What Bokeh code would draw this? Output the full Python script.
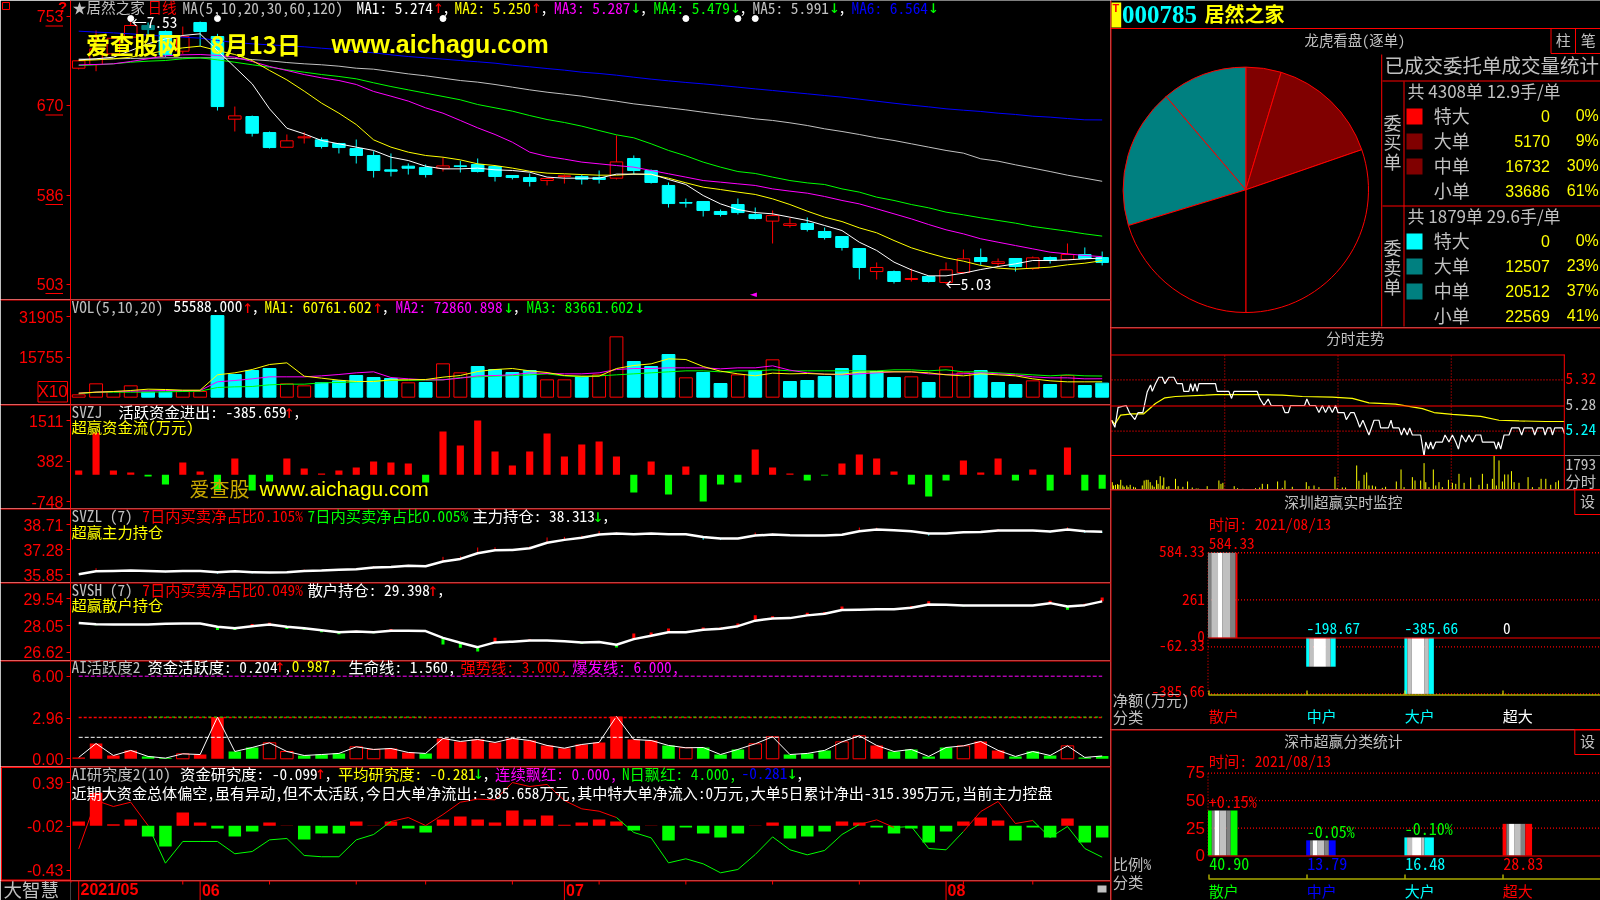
from bokeh.plotting import figure
from bokeh.layouts import row, column
from bokeh.models import Range1d, FixedTicker, Label, BoxAnnotation
from bokeh.embed import file_html
from bokeh.resources import INLINE
import math

# ---------- price panel (values in cents, as the axis shows them)
OPEN = [704.7,708.1,718.1,733.7,744.6,739.0,720.6,747.4,734.3,657.1,659.6,644.6,630.9,639.7,637.8,634.4,629.7,623.2,609.8,613.2,
        612.0,611.3,613.5,614.8,612.9,604.5,602.6,599.8,603.6,603.6,602.6,602.0,620.4,609.2,595.2,579.3,580.2,570.9,577.4,568.1,
        561.9,557.8,559.7,552.2,547.5,536.3,514.8,514.8,507.4,510.2,504.6,513.9,527.9,522.3,527.0,517.6,527.9,526.1,530.7,527.9]
CLOSE = [711.6,722.8,732.7,744.6,740.8,717.2,734.3,739.0,668.9,660.2,644.0,630.6,636.9,640.6,631.6,630.6,623.2,609.2,608.5,611.3,
         605.4,613.5,612.9,608.2,603.6,602.6,598.9,601.7,604.2,601.1,600.8,617.2,609.2,598.0,578.3,578.7,571.8,568.1,569.9,564.3,
         567.1,559.4,554.1,546.6,537.3,518.6,518.6,505.5,508.3,505.5,516.4,526.7,524.2,523.9,519.5,527.6,525.1,530.7,527.0,523.3]
HIGH = [712.5,739.9,733.7,749.2,747.4,739.9,743.6,748.3,736.8,668.9,660.5,645.6,642.8,645.0,640.0,635.0,638.1,627.2,625.1,615.7,
        614.8,621.3,618.2,620.4,613.8,604.5,606.4,601.7,605.4,605.4,609.2,641.9,623.2,610.1,598.0,583.0,580.2,572.7,583.0,574.6,
        571.8,565.0,565.3,555.9,547.5,536.3,523.3,515.8,517.6,511.1,523.3,535.4,536.3,527.0,527.0,528.9,528.9,541.0,537.3,533.5]
LOW = [703.5,701.9,716.5,732.7,730.5,715.0,718.1,725.3,665.2,645.6,640.9,629.7,630.6,634.4,629.7,625.1,615.7,602.6,603.6,605.4,
       602.6,608.2,607.3,607.3,598.9,600.8,594.2,595.2,597.0,596.1,597.0,600.8,605.4,597.0,574.6,574.6,566.2,566.2,568.1,563.4,
       541.0,555.9,552.2,544.7,534.4,507.4,507.4,503.6,505.5,504.6,503.0,512.7,520.5,519.5,514.8,516.4,522.3,526.1,526.1,520.5]
MA1 = [712.5,713.5,715.0,721.2,727.5,732.1,735.3,736.8,721.2,705.7,690.1,666.8,648.7,643.4,637.2,634.1,631.0,627.9,621.6,618.5,
       613.2,610.7,610.7,611.4,609.8,609.2,607.6,603.0,602.0,602.0,602.0,605.8,605.8,605.8,600.8,596.1,585.8,578.0,572.7,569.9,
       568.7,565.6,562.5,557.8,553.1,542.2,534.5,523.6,516.4,510.8,510.8,513.3,516.7,519.5,522.0,525.1,525.1,525.7,526.7,527.4]
MA2 = [711.9,712.5,713.5,715.0,718.1,721.2,723.7,725.3,721.2,717.5,711.9,702.6,693.8,683.3,672.1,662.7,652.1,637.8,631.0,626.3,
       623.2,621.6,619.1,615.4,613.8,611.4,608.5,606.7,606.1,605.4,604.8,604.8,605.8,605.4,602.0,597.7,593.6,591.4,589.0,586.8,
       582.7,577.4,571.2,565.6,561.5,555.6,551.0,543.8,537.0,532.0,527.6,524.5,520.5,518.0,517.0,518.0,518.9,521.1,522.6,525.0]
MA3 = [707.8,708.2,708.8,711.0,713.5,716.3,717.2,717.5,716.6,715.0,711.0,706.3,702.6,698.8,695.7,693.2,689.5,683.0,678.6,674.0,
       667.7,662.7,655.9,649.0,642.8,635.6,626.3,622.3,619.8,617.0,615.4,613.8,612.3,609.2,606.1,603.0,599.8,598.3,596.7,595.2,
       592.0,589.9,588.0,584.9,581.2,578.0,573.4,568.7,564.0,558.7,553.8,550.0,545.4,542.2,539.1,536.0,532.9,531.3,529.8,528.7]
MA4 = [707.2,707.9,708.8,710.3,711.3,711.9,713.5,714.4,712.5,710.3,707.9,705.7,703.2,701.0,698.8,697.0,694.8,691.1,687.6,684.5,
       681.4,678.3,675.2,670.8,667.7,664.6,660.5,656.8,654.0,650.6,646.5,642.5,639.7,634.1,627.9,622.9,617.0,612.3,608.2,606.4,
       603.0,599.8,597.6,596.1,592.0,589.0,584.3,581.2,577.4,574.3,570.3,567.8,565.0,562.5,560.0,556.9,554.7,552.5,550.0,547.9]
MA5 = [713.2,713.2,713.5,713.8,714.1,714.4,714.4,714.4,714.4,713.8,712.8,711.6,710.0,708.8,707.9,706.6,704.7,703.8,701.6,699.4,
       697.6,695.4,693.2,691.7,689.5,687.0,684.5,682.3,680.5,678.6,676.1,673.9,671.4,669.6,667.7,665.8,663.6,661.5,659.6,657.4,
       655.9,653.7,651.2,648.1,645.6,642.8,639.7,637.2,634.1,631.0,627.9,625.4,620.1,617.9,614.5,611.4,608.2,604.8,602.0,599.1]
MA6 = [739.3,738.4,737.7,736.8,735.6,734.6,733.7,732.8,730.6,728.7,727.5,726.5,725.6,724.7,723.4,722.2,720.6,719.1,717.2,715.6,
       714.4,713.2,711.9,710.7,709.4,707.5,706.0,704.4,702.9,701.0,699.8,698.2,696.3,694.5,692.9,691.4,690.1,688.6,687.0,685.4,
       683.9,682.3,680.8,679.2,677.7,675.8,673.9,672.0,670.2,668.6,666.8,665.5,664.3,662.7,661.5,659.9,659.0,657.7,656.5,656.4]
PRICE_TICKS = [503, 586, 670, 753]
STAR_BARS = [3, 8, 21, 35, 38, 39]
STAR_LEVEL = 751.1
DIM_CANDLES = [4]

# ---------- volume (axis unit: X10)
VOL = [924,5280,2244,4488,1980,1980,2244,2244,32300,8976,10560,11352,5280,4488,5676,6468,8580,7788,7392,5676,
       5808,13200,9636,12144,10956,9768,10560,6864,6864,8184,8844,23892,14124,12144,16896,7656,9768,5412,8844,10560,
       14784,6204,6600,8184,11352,16500,10164,7788,8052,5808,12012,9636,10560,5808,5016,6468,5016,8580,4620,5559]
VOL_UP = [0,1,2,3,6,7,12,13,19,21,22,27,28,30,31,35,38,40,48,50,51,55,57]
VOL_MA1 = [1584,1980,2244,2640,3168,3036,2772,2772,8844,9636,10956,12936,13596,8316,7524,6732,6204,6204,6864,6864,
           6996,7920,8580,10164,10956,11352,10428,9768,8580,8316,8316,11352,12540,13200,15180,14916,12144,10296,9240,8448,
           9504,9240,9372,9108,9108,9900,10032,10032,10032,9636,8844,8448,9240,8844,8448,7260,6468,6072,6072,6076]
VOL_MA2 = [1584,1980,2244,2376,2508,2640,2640,2640,6072,6600,7260,8052,8052,8052,8448,8976,9636,10032,7788,7260,
           6864,6864,7524,8448,8580,8844,9636,9372,9240,9240,9636,10956,11352,11352,11616,11616,11616,11220,11616,11616,
           12408,10692,9636,9108,8844,9240,9636,10032,10032,9240,8976,9240,9636,9240,8844,8052,7656,7656,7260,7286]
VOL_MA3 = [1320,1980,1980,1980,1980,2112,2244,2376,3828,4092,4224,4884,5148,5148,5676,5808,6072,6336,6600,6732,
           6732,6864,7788,8052,8316,8580,8844,9240,8448,8052,8448,8844,9240,9636,10032,10428,10428,10032,10428,10428,
           10824,10428,10428,10428,10428,10428,10428,10824,10824,10428,10824,10032,10032,9636,9240,8844,8448,8844,8448,8366]
VOL_TICKS = [15755, 31905]

# ---------- SVZJ
FLOW = [121,1176,121,65,-47,-271,345,93,-439,457,-439,-187,457,177,37,121,205,373,345,317,
        -215,1213,821,1521,653,261,653,1157,513,849,933,513,-494,373,-550,233,-746,-271,-215,709,
        205,37,-159,-19,317,569,457,93,-271,-606,-159,401,65,457,-159,149,-439,765,-439,-386]
FLOW_TICKS = [-748, 382, 1511]

# ---------- SVZL / SVSH
MAIN_HOLD = [35.87,36.04,36.06,36.08,36.06,36.02,36.06,36.06,35.98,36.04,35.98,35.97,35.98,36.06,36.08,36.12,36.16,36.25,36.29,36.35,
             36.33,36.6,36.75,37.08,37.25,37.27,37.37,37.68,37.85,37.97,38.16,38.22,38.18,38.22,38.18,38.18,38.02,37.93,37.93,38.1,
             38.16,38.12,38.1,38.1,38.14,38.35,38.45,38.41,38.35,38.22,38.22,38.29,38.31,38.39,38.39,38.39,38.33,38.45,38.35,38.313]
MAIN_TICKS = [35.85, 37.28, 38.71]
RETAIL_HOLD = [28.21,28.15,28.13,28.13,28.13,28.17,28.19,28.19,28.01,27.92,28.04,28.13,28.01,27.93,27.82,27.71,27.75,27.70,27.79,27.79,
               27.77,27.40,27.13,26.89,27.15,27.19,27.26,27.26,27.22,27.15,27.17,27.02,27.33,27.51,27.71,27.71,27.84,27.90,28.04,28.34,
               28.46,28.48,28.63,28.72,28.92,28.94,28.96,28.96,29.05,29.23,29.21,29.17,29.17,29.17,29.17,29.17,29.30,29.12,29.19,29.398]
RETAIL_TICKS = [26.62, 28.05, 29.54]

# ---------- AI activity
ACTIVE = [.10,1.11,.24,.61,.17,.05,.36,.31,3.03,.53,.82,1.16,.53,.24,.31,.39,.87,.68,.75,.46,
          .39,1.48,1.26,1.40,1.19,1.48,1.33,.97,.77,1.04,1.19,3.08,1.40,1.33,.97,.80,.82,.31,.68,1.09,
          1.60,.31,.39,.61,1.23,1.67,.97,.53,.68,.17,.82,.94,1.26,.61,.17,.53,.24,.94,.10,.204]
ACTIVE_KIND = list("rrrrgghrrgghhggghhrrgrrrrrrr" "rrrrrrghggghhggghhrgggghrrggghgg")
assert len(ACTIVE_KIND) == 60
ACTIVE_TICKS = [0.0, 2.96, 6.0]
LINE_POWER, LINE_STRONG, LINE_LIFE = 6.0, 3.0, 1.56

# ---------- AI research
RESEARCH = [.027,.295,0,.045,-.113,-.207,.111,.017,-.039,-.113,-.067,.017,-.011,-.141,-.085,-.085,.027,-.011,.027,-.039,
            -.076,.045,.074,.045,.017,.13,.045,.083,-.004,.017,.045,.027,-.057,-.011,-.151,-.029,-.085,-.123,-.085,-.011,
            .017,-.132,-.113,-.067,.027,.017,-.029,-.085,-.039,-.169,-.067,.027,.064,.036,-.151,-.029,-.123,.055,-.169,-.123]
RESEARCH_LINE = [-.229,.223,.167,.207,-.011,-.363,-.16,-.16,-.16,-.275,-.254,-.145,-.132,-.291,-.303,-.303,-.145,-.095,.027,.064,
                 -.011,.092,.207,.236,.229,.391,.354,.373,.223,.145,.123,.064,-.076,-.126,-.36,-.322,-.369,-.453,-.422,-.282,
                 -.117,-.238,-.285,-.244,-.095,-.001,.042,-.029,-.02,-.226,-.238,-.067,.12,.214,.008,.036,-.123,-.02,-.226,-.307]
RESEARCH_TICKS = [-0.43, -0.02, 0.39]
RESEARCH_BASE = -0.014

# ---------- date strip
MONTH_BARS = [0, 7, 28, 50]
MONTH_LABELS = ["2021/05", "06", "07", "08"]
DATE_TICKS = [6, 11, 16, 20, 25, 30, 35, 40, 45, 51, 55]

# ---------- order pie
BUY_VALUES = [0, 5170, 16732, 33686]
SELL_VALUES = [0, 12507, 20512, 22569]
BUY_PCT = ["0%", "9%", "30%", "61%"]
SELL_PCT = ["0%", "23%", "37%", "41%"]
SIZE_NAMES = ["特大", "大单", "中单", "小单"]

# ---------- intraday
MIN_T = [0,1.8,3.5,7.8,9.5,12.4,14.1,16.6,18.9,20.7,
         21.6,23.3,25.1,26.9,28.3,30.4,33,34.8,37.5,38.3,
         41,41.9,43.1,44.2,45.4,46.3,55.1,56,62.2,63.6,
         64.9,77.2,78.5,80.8,83,84.6,90.5,91.9,93.7,94.9,
         102.3,103.5,105,108.1,109.9,111.7,113.4,115.2,117,118.7,
         120,123.2,124.4,126.7,128.5,130.2,131.5,133.2,136.4,139.1,
         141.7,142.6,146.7,148.1,149.1,152.3,153.6,155,156.7,158,
         159.4,163.8,165.6,166.5,167.9,169.1,170.3,171.8,175.3,176.7,
         178.8,180.6,182.4,183.8,185.5,187.7,189.4,191.2,193,195.6,
         196.5,202.7,203.9,205,206.2,208,210.6,212,215.9,217.3,
         218.6,223,224.2,225.6,228.7,229.7,231,232.7,233.6,234.8,
         238.9,240]
MIN_P = [5.257,5.246,5.277,5.28,5.269,5.258,5.269,5.269,5.301,5.312,
         5.302,5.314,5.324,5.324,5.314,5.324,5.324,5.314,5.314,5.302,
         5.302,5.314,5.302,5.314,5.302,5.314,5.314,5.302,5.302,5.291,
         5.302,5.302,5.291,5.28,5.29,5.28,5.28,5.269,5.269,5.28,
         5.28,5.29,5.28,5.28,5.269,5.28,5.269,5.28,5.269,5.28,
         5.269,5.269,5.258,5.269,5.269,5.257,5.246,5.257,5.234,5.257,
         5.257,5.245,5.245,5.257,5.245,5.245,5.234,5.245,5.234,5.245,
         5.234,5.234,5.201,5.223,5.212,5.223,5.212,5.223,5.223,5.234,
         5.223,5.234,5.223,5.212,5.234,5.223,5.234,5.223,5.234,5.234,
         5.223,5.223,5.212,5.223,5.212,5.234,5.234,5.245,5.245,5.234,
         5.245,5.245,5.234,5.245,5.245,5.234,5.245,5.245,5.234,5.245,
         5.245,5.236]
AVG_T = [0,1.8,4.8,11,17.1,23.3,28.3,33.9,49.8,55.1,76.3,90.5,101.1,117,127.6,136.4,150.5,164.7,170.9,180.6,195.6,205.3,215.9,230.1,240]
AVG_P = [5.257,5.251,5.265,5.267,5.267,5.283,5.292,5.294,5.296,5.297,5.297,5.296,5.294,5.293,5.291,5.284,5.282,5.275,5.269,5.266,5.263,5.257,5.256,5.255,5.255]
TRADE_T = [.4,1.1,2.1,3.2,3.9,4.9,6,6.7,8.1,8.8,
           9.9,11.7,12.7,16.3,17.3,18.4,19.4,20.5,21.6,22.6,
           23.9,24.7,25.8,26.9,27.7,29.3,30.4,33.9,35.3,37.8,
           40.3,42.8,44.9,45.9,50.7,56.9,58,59,65,66.8,
           69.6,76.3,78.5,79.9,82.7,88,90.5,91.9,95.8,103.2,
           104.6,107.3,109.9,118.4,119.6,122.3,124,129.9,131.1,133.8,
           135.2,136.4,138.2,139.9,143.5,145.2,150.9,153.4,155,159.4,
           160.8,163.8,165.6,166.5,168.2,170.5,171.8,173.5,175.3,178.5,
           180.6,182.4,184.1,186.8,190.3,194.7,196.5,199.1,201.8,202.7,
           203.9,205.3,207.1,208.3,210.1,211.9,213.3,215.9,220.7,223,
           226.5,227.6,230.1,232.7,235.4,236.8]
TRADE_V = [387,211,246,282,246,510,211,141,211,123,
           246,141,106,211,475,510,510,387,211,141,
           493,299,704,211,634,141,176,563,176,141,
           422,106,53,53,176,475,299,352,176,70,
           35,70,106,299,282,422,88,475,141,387,
           176,211,123,669,70,106,106,1267,458,774,
           898,211,211,158,88,141,422,1056,123,651,
           475,475,1390,387,123,1056,211,387,123,510,
           352,299,827,352,634,246,827,299,563,1793,
           211,1531,422,792,792,968,387,352,651,123,
           123,563,563,246,387,475]
assert len(MIN_T) == len(MIN_P) and len(TRADE_T) == len(TRADE_V) and len(AVG_T) == len(AVG_P)

# ---------- classification panels
CATS = ["散户", "中户", "大户", "超大"]
NET_VALUES = [584.33, -198.67, -385.66, 0]
NET_TICKS = [584.33, 261, -62.33, -385.66]
SHARE_VALUES = [40.90, 13.79, 16.48, 28.83]
SHARE_CHANGE = ["+0.15%", "-0.05%", "-0.10%", ""]
SHARE_TICKS = [75, 50, 25]

RED, GREEN, CYAN, YEL, MAG, BLUE, GREY, WHITE, TEAL, DRED = "#ff0000", "#00ff00", "#00ffff", "#ffff00", "#ff00ff", "#0000ff", "#c0c0c0", "#ffffff", "#008080", "#800000"
MONO = "Noto Sans Mono CJK SC, DejaVu Sans Mono, Noto Sans CJK SC"
SANS = "Liberation Sans"
CJK = "Noto Sans CJK SC"
FS = 15.3
BARS = list(range(60))
XSTART, XEND = -0.473, 59.48

def make(w, h, xr, yr, left=0):
    p = figure(width=w, height=h, x_range=Range1d(*xr), y_range=Range1d(*yr), toolbar_location=None, tools="",
               output_backend="svg", min_border=0, min_border_left=left,
               background_fill_color="black", border_fill_color="black", outline_line_color=None)
    p.grid.visible = False
    p.xaxis.visible = False
    p.yaxis.visible = False
    return p

# a transparent sheet over the whole page carries every text and rule, so margins do not clip them
sheet = make(1600, 900, (0, 1600), (0, 900))
sheet.background_fill_alpha = 0
sheet.border_fill_alpha = 0
sheet.styles = {"position": "fixed", "left": "0px", "top": "0px"}

def T(x, y, s, color=GREY, size=FS, font=MONO, bold=False, align="left"):
    nudge = 1 if font in (SANS, "Liberation Serif") else 2
    sheet.add_layout(Label(x=x, y=900 - (y - nudge), x_units="screen", y_units="screen", text=s, text_color=color,
                           text_font=font, text_font_size=f"{size}px", text_align=align, text_baseline="middle",
                           text_font_style="bold" if bold else "normal"))

def width(s):
    return sum(7.8 if (ord(c) < 128 or c in "↑↓") else 14.8 for c in s)

def seq(x, y, runs):
    for s, c in runs:
        if s in "↑↓":
            T(x - 1.5, y, s, c, 18, "DejaVu Sans Mono")
        else:
            T(x, y, s, c)
        x += width(s)
    return x

def box(x0, y0, x1, y1, fill=RED, line=None):
    sheet.add_layout(BoxAnnotation(left=x0, right=x1, top=900 - y0, bottom=900 - y1,
                                   left_units="screen", right_units="screen", top_units="screen", bottom_units="screen",
                                   fill_color=fill, fill_alpha=1 if fill else 0, line_color=line, line_alpha=1 if line else 0,
                                   line_width=1, editable=False))

def left_panel(h, yr, ticks, labels=None):
    p = make(1110, h, (XSTART, XEND), yr, left=70)
    ax = p.yaxis[0]
    ax.visible = True
    ax.ticker = FixedTicker(ticks=ticks)
    ax.major_label_overrides = {t: (labels[i] if labels else str(t)) for i, t in enumerate(ticks)}
    ax.axis_line_color = RED
    ax.major_tick_line_color = RED
    ax.minor_tick_line_color = None
    ax.major_tick_in = 0
    ax.major_tick_out = 4
    ax.major_label_standoff = 3
    ax.major_label_text_color = RED
    ax.major_label_text_font = SANS
    ax.major_label_text_font_size = "16px"
    return p

# ---- P1 price
p1 = left_panel(299, (488.7, 767.94), PRICE_TICKS)
up = [i for i in BARS if CLOSE[i] >= OPEN[i]]
dn = [i for i in BARS if CLOSE[i] < OPEN[i]]
p1.segment([BARS[i] for i in up], [HIGH[i] for i in up], [BARS[i] for i in up], [LOW[i] for i in up], line_color=RED)
p1.segment([BARS[i] for i in dn], [HIGH[i] for i in dn], [BARS[i] for i in dn], [LOW[i] for i in dn], line_color=CYAN)
p1.vbar([BARS[i] for i in up], 0.72, [OPEN[i] for i in up], [CLOSE[i] for i in up], fill_color="black", line_color=RED)
p1.vbar([BARS[i] for i in dn], 0.72, [CLOSE[i] for i in dn], [OPEN[i] for i in dn],
        fill_color=[TEAL if i in DIM_CANDLES else CYAN for i in dn], line_color=[TEAL if i in DIM_CANDLES else CYAN for i in dn])
for vals, col in [(MA6, BLUE), (MA5, GREY), (MA4, GREEN), (MA3, MAG), (MA2, YEL), (MA1, WHITE)]:
    p1.line(BARS, vals, line_color=col, line_width=1)
p1.scatter(STAR_BARS, [STAR_LEVEL] * len(STAR_BARS), marker="circle", size=6, fill_color=WHITE, line_color=WHITE)
for uy in (25, 114, 203.5, 292.5):
    box(45, uy, 62.5, uy + 1)
box(2, 2, 9, 9, fill=None, line=RED)
T(62, 7, "?", RED, 15, SANS, True, "center")
T(72, 8, "★", GREY, 14, CJK)
T(86, 8, "居然之家", GREY, 14.6, CJK)
T(147, 8, "日线", RED, 14.6, CJK)
seq(182, 8, [("MA(5,10,20,30,60,120)", GREY)])
seq(356, 8, [("MA1: 5.274", WHITE), ("↑", RED), (",", WHITE)])
seq(454, 8, [("MA2: 5.250", YEL), ("↑", RED), (",", WHITE)])
seq(553.5, 8, [("MA3: 5.287", MAG), ("↓", GREEN), (",", WHITE)])
seq(653, 8, [("MA4: 5.479", GREEN), ("↓", GREEN), (",", WHITE)])
seq(752, 8, [("MA5: 5.991", GREY), ("↓", GREEN), (",", WHITE)])
seq(851, 8, [("MA6: 6.564", BLUE), ("↓", GREEN)])
T(131, 22, "←7.53", WHITE)
T(945, 284, "←5.03", WHITE)
T(753, 295, "◄", MAG, 9, "DejaVu Sans", False, "center")
T(85.5, 45, "爱查股网", YEL, 24, CJK, True)
T(210, 45, "8月13日", YEL, 24, CJK, True)
T(331, 44, "www.aichagu.com", YEL, 25, SANS, True)

# ---- P2 volume
p2 = left_panel(105, (-2904, 38676), VOL_TICKS)
vu = [i for i in BARS if i in VOL_UP]
vd = [i for i in BARS if i not in VOL_UP]
p2.vbar(vd, 0.74, [VOL[i] for i in vd], 0, fill_color=CYAN, line_color=CYAN)
p2.vbar(vu, 0.74, [VOL[i] for i in vu], 0, fill_color="black", line_color=RED)
for vals, col in [(VOL_MA3, GREEN), (VOL_MA2, MAG), (VOL_MA1, YEL)]:
    p2.line(BARS, vals, line_color=col, line_width=1)
box(0, 299, 1110, 300)
box(37.5, 381, 67, 401.5, fill=None, line=RED)
T(52, 391.5, "X10", RED, 17, SANS, False, "center")
seq(71, 307.7, [("VOL(5,10,20)", GREY)])
seq(173, 307.7, [("55588.000", WHITE), ("↑", RED), (",", WHITE)])
seq(264, 307.7, [("MA1: 60761.602", YEL), ("↑", RED), (",", WHITE)])
seq(395, 307.7, [("MA2: 72860.898", MAG), ("↓", GREEN), (",", WHITE)])
seq(526, 307.7, [("MA3: 83661.602", GREEN), ("↓", GREEN)])

# ---- P3 money flow
p3 = left_panel(104, (-942, 1969), FLOW_TICKS)
pos = [i for i in BARS if FLOW[i] >= 0]
neg = [i for i in BARS if FLOW[i] < 0]
p3.vbar(pos, 0.41, [FLOW[i] for i in pos], 0, fill_color=RED, line_color=None)
p3.vbar(neg, 0.41, 0, [FLOW[i] for i in neg], fill_color=GREEN, line_color=None)
box(0, 404, 1110, 405)
seq(71, 412.5, [("SVZJ", GREY)])
seq(118, 412.5, [("活跃资金进出: -385.659", WHITE), ("↑", RED), (",", WHITE)])
seq(71, 427, [("超赢资金流(万元)", YEL)])
T(189, 490, "爱查股", "#c8a800", 20, CJK)
T(259, 489, "www.aichagu.com", YEL, 21, SANS)

# ---- P4 main holdings
def holding(h, oy, yr, ticks, vals, down_col, w):
    p = left_panel(h, yr, ticks, [f"{t:.2f}" for t in ticks])
    prev = [vals[0]] + vals[:-1]
    ends = [v + (v - q) for v, q in zip(vals, prev)]
    p.segment(BARS, vals, BARS, ends, line_color=[RED if v >= q else down_col for v, q in zip(vals, prev)], line_width=w)
    p.line(BARS, vals, line_color=WHITE, line_width=2.5)
    box(0, oy, 1110, oy + 1)
    return p
p4 = holding(74, 508, (35.39, 39.66), MAIN_TICKS, MAIN_HOLD, CYAN, 1)
seq(71, 516.7, [("SVZL  (7)", GREY)])
seq(141.8, 516.7, [("7日内买卖净占比0.105%", RED)])
seq(307, 516.7, [("7日内买卖净占比0.005%", GREEN)])
seq(472, 516.7, [("主力持仓: 38.313", WHITE), ("↓", GREEN), (",", WHITE)])
seq(71, 532, [("超赢主力持仓", YEL)])

# ---- P5 retail holdings
p5 = holding(78, 582, (26.16, 30.43), RETAIL_TICKS, RETAIL_HOLD, GREEN, 3)
seq(71, 590.7, [("SVSH  (7)", GREY)])
seq(141.8, 590.7, [("7日内买卖净占比0.049%", RED)])
seq(307, 590.7, [("散户持仓: 29.398", WHITE), ("↑", RED), (",", WHITE)])
seq(71, 605.5, [("超赢散户持仓", YEL)])

# ---- P6 activity
p6 = left_panel(106, (-0.56, 7.14), ACTIVE_TICKS, ["0.00", "2.96", "6.00"])
for kind, fc, lc in [("g", GREEN, None), ("r", RED, None), ("h", "black", RED)]:
    idx = [i for i in BARS if ACTIVE_KIND[i] == kind]
    p6.vbar(idx, 0.72, [ACTIVE[i] for i in idx], 0, fill_color=fc, line_color=lc)
p6.line(BARS, ACTIVE, line_color=WHITE, line_width=1)
p6.segment([0], [LINE_POWER], [59], [LINE_POWER], line_color=MAG, line_dash="4 2")
p6.segment([0], [LINE_STRONG], [59], [LINE_STRONG], line_color=RED, line_dash="3 2", line_width=1.5)
p6.segment([4, 33], [LINE_STRONG + .03] * 2, [20, 59], [LINE_STRONG + .03] * 2, line_color=GREEN, line_dash="3 3")
p6.segment([0], [LINE_LIFE], [59], [LINE_LIFE], line_color=WHITE, line_dash="4 2")
box(0, 660, 1110, 661)
seq(71, 667.3, [("AI活跃度2", GREY)])
seq(147, 667.3, [("资金活跃度: 0.204", WHITE), ("↑", RED), (",", WHITE), ("0.987,", YEL)])
seq(348, 667.3, [("生命线: 1.560,", WHITE)])
seq(460, 667.3, [("强势线: 3.000,", RED)])
seq(571.8, 667.3, [("爆发线: 6.000,", MAG)])

# ---- P7 research
p7 = left_panel(114, (-0.525, 0.541), RESEARCH_TICKS, ["-0.43", "-0.02", "0.39"])
pos = [i for i in BARS if RESEARCH[i] >= RESEARCH_BASE]
neg = [i for i in BARS if RESEARCH[i] < RESEARCH_BASE]
p7.vbar(pos, 0.72, [RESEARCH[i] for i in pos], RESEARCH_BASE, fill_color=RED, line_color=None)
p7.vbar(neg, 0.72, RESEARCH_BASE, [RESEARCH[i] for i in neg], fill_color=GREEN, line_color=None)
segcol = [RED if (RESEARCH_LINE[i] + RESEARCH_LINE[i + 1]) / 2 > -0.005 else GREEN for i in range(59)]
p7.segment(BARS[:-1], RESEARCH_LINE[:-1], BARS[1:], RESEARCH_LINE[1:], line_color=segcol, line_width=1)
box(0, 766, 1110, 767)
box(1, 767, 70, 879.5, fill=None, line=RED)
seq(71, 774.3, [("AI研究度2(10)", GREY)])
seq(179.6, 774.3, [("资金研究度: -0.099", WHITE), ("↑", RED), (",", WHITE)])
seq(337.5, 774.3, [("平均研究度: -0.281", YEL), ("↓", GREEN), (",", WHITE)])
seq(494.6, 774.3, [("连续飘红: 0.000,", MAG)])
seq(621.4, 774.3, [("N日飘红: 4.000,", GREEN)])
seq(741, 774.3, [("-0.281", BLUE), ("↓", GREEN), (",", WHITE)])
T(71, 793.5, "近期大资金总体偏空,虽有异动,但不太活跃,今日大单净流出:-385.658万元,其中特大单净流入:0万元,大单5日累计净出-315.395万元,当前主力控盘", WHITE, 15.1)

# ---- date strip
p8 = make(1110, 20, (XSTART, XEND), (0, 1), left=70)
p8.segment(MONTH_BARS, [0] * 4, MONTH_BARS, [1] * 4, line_color=RED)
p8.segment(DATE_TICKS, [0.8] * len(DATE_TICKS), DATE_TICKS, [1] * len(DATE_TICKS), line_color=RED)
box(0, 880, 1110, 881)
box(70, 880, 71, 882)
for m, lab in zip(MONTH_BARS, MONTH_LABELS):
    T(80 + m * 17.34, 890, lab, RED, 16, SANS, True)
T(3, 890, "大智慧", GREY, 18.5, CJK)
box(1097, 885, 1106, 892, fill=GREY)

# ---- right column
R0 = make(490, 28, (0, 1), (0, 1))
box(1110, 0, 1111, 28)
box(1111, 2, 1120.7, 27, fill=YEL)
T(1112, 8, "T", RED, 11, SANS, True)
T(1121.5, 15, "000785", CYAN, 25, "Liberation Serif", True)
T(1204, 15, "居然之家", YEL, 20, CJK, True)
box(1110, 27.5, 1600, 28.5)

R_PX = 122.7
R1 = make(490, 299, (-135.3 / R_PX, 354.7 / R_PX), (-137.7 / R_PX, 161.3 / R_PX))
total = sum(BUY_VALUES)
a = math.pi / 2
for v, col in zip(BUY_VALUES, ["#ff0000", DRED, DRED, "#000000"]):
    if v:
        b = a - math.pi * v / total
        R1.wedge(0, 0, 1, b, a, fill_color=col, line_color=RED)
        a = b
total = sum(SELL_VALUES)
a = math.pi / 2
for v, col in zip(SELL_VALUES, [CYAN, TEAL, TEAL, "#000000"]):
    if v:
        b = a + math.pi * v / total
        R1.wedge(0, 0, 1, a, b, fill_color=col, line_color=RED)
        a = b
box(1110, 28, 1111, 327)
T(1304, 41, "龙虎看盘(逐单)", GREY, 14.4)
box(1550.5, 28, 1575, 53, fill=None, line=RED)
box(1575, 28, 1600, 53, fill=None, line=RED)
T(1562.7, 41, "柱", GREY, 15, CJK, False, "center")
T(1587.7, 41, "笔", GREY, 15, CJK, False, "center")
box(1380.7, 54, 1381.7, 326)
box(1382, 80, 1600, 81)
box(1382, 205, 1600, 206)
box(1403, 81, 1404, 326)
T(1384, 66, "已成交委托单成交量统计", GREY, 19.5, CJK)
T(1407, 91.7, "共 4308单 12.9手/单", GREY, 17, CJK)
T(1407, 217.3, "共 1879单 29.6手/单", GREY, 17, CJK)
for ch, yy in zip("委买单", (123, 142.7, 162.7)):
    T(1392, yy, ch, GREY, 18, CJK, False, "center")
for ch, yy in zip("委卖单", (248, 268, 287)):
    T(1392, yy, ch, GREY, 18, CJK, False, "center")
rows = [(116, 141, 166, 191), (241, 266, 291, 316)]
swatch = [(RED, DRED, DRED, None), (CYAN, TEAL, TEAL, None)]
for side, (vals, pcts) in enumerate([(BUY_VALUES, BUY_PCT), (SELL_VALUES, SELL_PCT)]):
    for k in range(4):
        yy = rows[side][k]
        if swatch[side][k]:
            box(1406, yy - 8, 1422, yy + 8, fill=swatch[side][k])
        T(1433.3, yy, SIZE_NAMES[k], GREY, 18, CJK)
        T(1549.3, yy, str(vals[k]), YEL, 16, SANS, False, "right")
        T(1598.3, yy, pcts[k], YEL, 16, SANS, False, "right")

PX_MIN = 1.8875
R2 = make(490, 128, (-0.53, 489 / PX_MIN), (5.202, 5.4016))
R2.segment([60, 120, 180], [5.202] * 3, [60, 120, 180], [5.3595] * 3, line_color=RED, line_dash="1 2")
R2.segment([0, 0], [5.32, 5.24], [240, 240], [5.32, 5.24], line_color=RED, line_dash="1 2", line_width=1.3)
R2.line(AVG_T, AVG_P, line_color=YEL, line_width=1.2)
R2.line(MIN_T, MIN_P, line_color=WHITE, line_width=1.2)
box(1110, 405, 1564, 406)
box(1110, 327, 1600, 328)
box(1110, 327, 1111, 455)
box(1110, 354, 1564, 355)
box(1563.3, 354, 1564.3, 455)
box(1110, 454.5, 1564, 455.5)
T(1325.7, 339, "分时走势", GREY, 14.6, CJK)
T(1565, 379.3, "5.32", RED)
T(1565, 405, "5.28", GREY)
T(1565, 430, "5.24", CYAN)

R3 = make(490, 34, (-0.53, 489 / PX_MIN), (0, 1793))
R3.segment([60, 120, 180], [0] * 3, [60, 120, 180], [1793] * 3, line_color=RED, line_dash="1 2")
R3.segment(TRADE_T, [0] * len(TRADE_T), TRADE_T, TRADE_V, line_color=YEL)
box(1110, 455, 1111, 489)
box(1563.3, 455, 1564.3, 489)
T(1565, 465, "1793", GREY)
T(1565, 481.7, "分时", GREY)

def stripes(p, i, val, colors, edges, bw=0.3):
    lo, hi = (0, val) if val >= 0 else (val, 0)
    for c, e0, e1 in zip(colors, edges[:-1], edges[1:]):
        p.quad(left=i + e0 * bw, right=i + e1 * bw, top=hi, bottom=lo, fill_color=c, line_color=None)

def class_panel(h, oy, yr, base_y, cat_cols, cat_y, title_y, time_y):
    p = make(490, h, (-97.3 / 98, 391.7 / 98), yr)
    box(1208, base_y, 1600, base_y + 1, fill=YEL)
    for k, (nm, col) in enumerate(zip(CATS, cat_cols)):
        box(1208 + k * 98, base_y - 4, 1209 + k * 98, base_y, fill=YEL)
        T(1208.3 + k * 98, cat_y, nm, col, 15, CJK)
    box(1110, oy, 1600, oy + 1)
    box(1110, oy, 1111, oy + h)
    T(1283.7, title_y, "深圳超赢实时监控" if oy < 700 else "深市超赢分类统计", GREY, 14.8, CJK)
    T(1208.3, time_y, "时间: 2021/08/13", RED)
    box(1574.3, oy, 1600, oy + 25, fill=None, line=RED)
    T(1587, oy + 13, "设", GREY, 15, CJK, False, "center")
    return p

R4 = class_panel(240, 489, (-630.2, 1019), 694, [RED, CYAN, CYAN, WHITE], 717.3, 503, 524)
R4.segment([0, 0, 0, 0], NET_TICKS, [4] * 4, NET_TICKS, line_color=RED, line_dash="1 2", line_width=1.3)
R4.segment([0], [NET_TICKS[0]], [0], [NET_TICKS[3]], line_color=RED, line_dash="1 2")
stripes(R4, 0, NET_VALUES[0], ["#808080", GREY, WHITE, GREY, "#808080", RED], [0, .11, .34, .48, .77, .94, 1])
for k in (1, 2):
    stripes(R4, k, NET_VALUES[k], [CYAN, GREY, WHITE, GREY, CYAN], [0, .10, .24, .67, .83, 1])
box(1208, 637, 1600, 638)
T(1208.3, 544, "584.33", RED)
T(1306, 629, "-198.67", CYAN)
T(1404, 629, "-385.66", CYAN)
T(1502.5, 629, "0", WHITE)
for s, yy in zip(["584.33", "261", "0", "-62.33", "-385.66"], [552.7, 600, 637, 646.7, 692]):
    T(1204.5, yy, s, RED, FS, MONO, False, "right")
T(1112.3, 700.7, "净额(万元)", GREY)
T(1112.3, 717.3, "分类", GREY)

R5 = class_panel(171, 729, (-41, 114.8), 878, [GREEN, BLUE, CYAN, RED], 891.7, 742.3, 761.7)
R5.segment([0, 0, 0], SHARE_TICKS, [4] * 3, SHARE_TICKS, line_color=RED, line_dash="1 2", line_width=1.3)
R5.segment([0], [0], [0], [75], line_color=RED, line_dash="1 2")
cols = [GREEN, BLUE, CYAN, RED]
for k in (0, 1, 3):
    stripes(R5, k, SHARE_VALUES[k], [cols[k], "#808080", WHITE, GREY, "#808080", cols[k]], [0, .13, .22, .39, .62, .77, 1])
stripes(R5, 2, SHARE_VALUES[2], [CYAN, GREY, WHITE, GREY, CYAN], [0, .09, .26, .57, .68, 1])
box(1208, 855, 1600, 856)
for k, (s, c) in enumerate(zip(SHARE_CHANGE, [RED, GREEN, GREEN, RED])):
    if s:
        T(1208.3 + k * 98, [802.3, 832.3, 829.7, 0][k], s, c, 16)
for k, v in enumerate(SHARE_VALUES):
    T(1208.8 + k * 98, 865, f"{v:.2f}", cols[k], 16)
for s, yy in zip(["75", "50", "25", "0"], [772.7, 800.3, 828.3, 855]):
    T(1204.5, yy, s, RED, 17, SANS, False, "right")
T(1112.3, 864.3, "比例%", GREY)
T(1112.3, 882.7, "分类", GREY)

page = row(column(p1, p2, p3, p4, p5, p6, p7, p8, spacing=0),
           column(R0, R1, R2, R3, R4, R5, spacing=0), spacing=0,
           styles={"position": "fixed", "left": "0px", "top": "0px"})
open("out.html", "w").write(file_html([page, sheet], INLINE))
